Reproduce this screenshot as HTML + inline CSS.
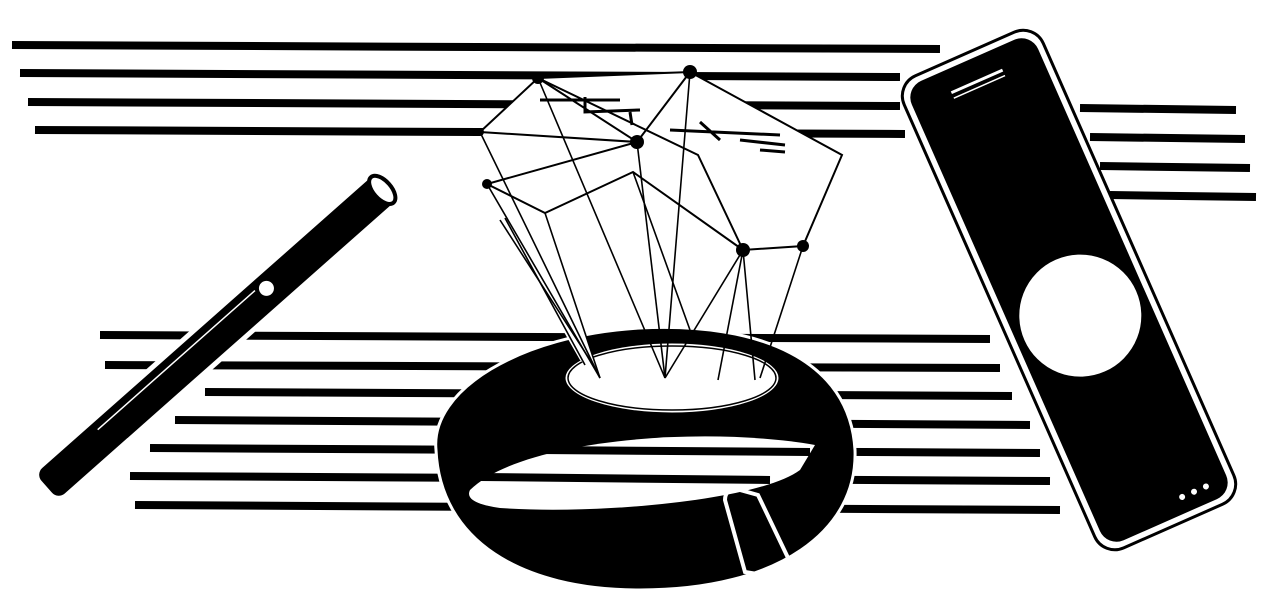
<!DOCTYPE html>
<html><head><style>html,body{margin:0;padding:0;background:#fff}svg{display:block}</style></head>
<body>
<svg width="1280" height="615" viewBox="0 0 1280 615" xmlns="http://www.w3.org/2000/svg">
<rect width="1280" height="615" fill="#fff"/>
<g stroke="#000" stroke-width="8" stroke-linecap="butt">
<line x1="12" y1="45" x2="940" y2="49"/>
<line x1="20" y1="73" x2="900" y2="77"/>
<line x1="28" y1="102" x2="900" y2="106"/>
<line x1="35" y1="130" x2="905" y2="134"/>
<line x1="1080" y1="108" x2="1236" y2="110"/>
<line x1="1090" y1="137" x2="1245" y2="139"/>
<line x1="1100" y1="166" x2="1250" y2="168"/>
<line x1="1110" y1="195" x2="1256" y2="197"/>
<line x1="100" y1="335" x2="990" y2="339"/>
<line x1="105" y1="365" x2="1000" y2="368"/>
<line x1="205" y1="392" x2="1012" y2="396"/>
<line x1="175" y1="420" x2="1030" y2="425"/>
<line x1="150" y1="448" x2="1040" y2="453"/>
<line x1="130" y1="476" x2="1050" y2="481"/>
<line x1="135" y1="505" x2="1060" y2="510"/>
</g>
<!-- pen -->
<g transform="translate(216,337) rotate(-41.5)">
<rect x="-232" y="-22" width="464" height="44" fill="#fff"/>
<rect x="-226" y="-17" width="452" height="34" rx="9" fill="#000"/>
<ellipse cx="222" cy="0" rx="9" ry="17" fill="#fff" stroke="#000" stroke-width="4"/>
<circle cx="70" cy="-3" r="10" fill="#fff" stroke="#000" stroke-width="5"/>
<line x1="-150" y1="-9" x2="60" y2="-9" stroke="#fff" stroke-width="1.5"/>
</g>
<!-- phone -->
<g transform="translate(1069,290) rotate(-23.8)">
<rect x="-76" y="-258" width="152" height="516" rx="22" fill="#fff" stroke="#000" stroke-width="3"/>
<rect x="-69" y="-251" width="138" height="502" rx="18" fill="#000"/>
<line x1="-28" y1="-228" x2="28" y2="-228" stroke="#fff" stroke-width="3"/>
<line x1="-28" y1="-222" x2="28" y2="-222" stroke="#fff" stroke-width="1.5"/>
<circle cx="0" cy="28" r="62" fill="#fff" stroke="#000" stroke-width="2"/>
<circle cx="20" cy="235" r="3" fill="#fff"/><circle cx="33" cy="235" r="3" fill="#fff"/><circle cx="46" cy="235" r="3" fill="#fff"/>
</g>
<!-- band -->
<path d="M436,450 C430,390 520,335 640,328 C760,322 850,360 855,450 C858,530 780,590 640,590 C520,590 440,540 436,450 Z" fill="#000" stroke="#fff" stroke-width="3"/>
<path d="M470,490 C520,440 700,425 815,445 L800,470 C760,500 600,515 500,508 C480,505 465,500 470,490 Z" fill="#fff"/>
<g stroke="#000" stroke-width="8"><line x1="540" y1="450" x2="810" y2="452"/><line x1="480" y1="477" x2="770" y2="480"/></g>
<ellipse cx="672" cy="378" rx="108" ry="36" fill="#fff" stroke="#000" stroke-width="3"/>
<ellipse cx="672" cy="378" rx="104" ry="32" fill="none" stroke="#000" stroke-width="1.5"/>
<path d="M725,500 Q725,488 740,490 L758,495 L790,562 Q790,578 770,576 L745,572 Z" fill="none" stroke="#fff" stroke-width="4"/>
<!-- hologram -->
<polygon points="538,78 690,72 842,155 803,246 743,250 633,172 545,213 487,184 480,132" fill="#fff"/>
<polygon points="500,220 545,213 600,378 580,360" fill="#fff"/>
<g stroke="#000" stroke-width="2" fill="none">
<polygon points="538,78 690,72 842,155 803,246 743,250 698,155"/>
<polyline points="538,78 480,132 637,142 487,184 545,213 633,172 743,250"/>
<line x1="690" y1="72" x2="637" y2="142"/>
<line x1="538" y1="78" x2="637" y2="142"/>
<g stroke-width="1.6">
<line x1="538" y1="78" x2="665" y2="378"/><line x1="690" y1="72" x2="665" y2="378"/>
<line x1="480" y1="132" x2="600" y2="378"/><line x1="487" y1="184" x2="600" y2="378"/>
<line x1="637" y1="142" x2="665" y2="378"/><line x1="633" y1="172" x2="690" y2="330"/>
<line x1="743" y1="250" x2="718" y2="380"/><line x1="743" y1="250" x2="755" y2="380"/>
<line x1="803" y1="246" x2="760" y2="378"/><line x1="743" y1="250" x2="665" y2="378"/>
<line x1="500" y1="220" x2="590" y2="360"/><line x1="505" y1="218" x2="585" y2="365"/><line x1="545" y1="213" x2="600" y2="378"/>
</g>
<path d="M540,100 L620,100 M585,97 L585,112 L640,110 M630,112 L632,125" stroke-width="3"/>
<path d="M670,130 L780,135 M700,122 L720,140 M740,140 L785,145 M760,150 L785,152" stroke-width="3"/>
</g>
<g fill="#000">
<circle cx="538" cy="78" r="6"/><circle cx="690" cy="72" r="7"/><circle cx="480" cy="132" r="4"/>
<circle cx="637" cy="142" r="7"/><circle cx="487" cy="184" r="5"/><circle cx="743" cy="250" r="7"/><circle cx="803" cy="246" r="6"/>
</g>
</svg>
</body></html>
